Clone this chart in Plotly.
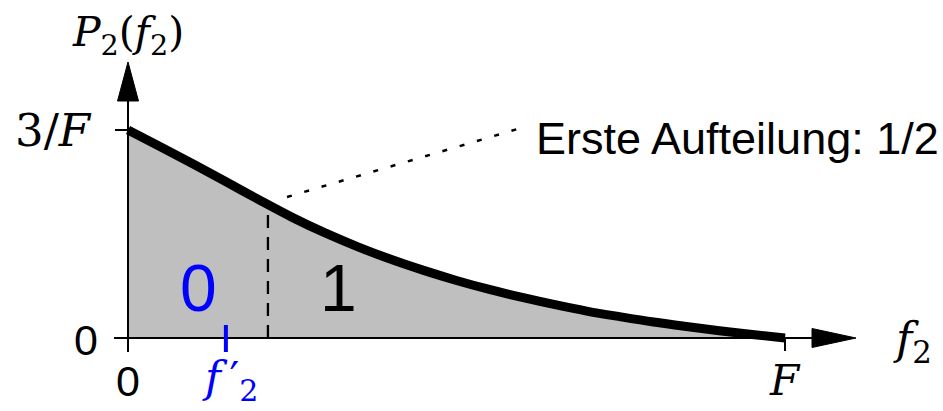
import numpy as np
import plotly.graph_objects as go

# Density P2(f2), in units of 1/F, sampled along f2/F
f2_frac = [0.00, 0.05, 0.10, 0.15, 0.20, 0.25, 0.30, 0.35, 0.40, 0.45, 0.50,
           0.55, 0.60, 0.65, 0.70, 0.75, 0.80, 0.85, 0.90, 0.95, 1.00]
p2_vals = [3.000, 2.755, 2.505, 2.250, 1.990, 1.740, 1.515, 1.315, 1.135, 0.975, 0.830,
           0.700, 0.585, 0.480, 0.385, 0.305, 0.230, 0.165, 0.105, 0.050, 0.000]

# First split of the interval (equal area on both sides) and the sample f2'
split_frac = 0.213
f2_prime_frac = 0.149

# Region labels and their positions along f2/F
region_labels = ["0", "1"]
region_label_x = [0.108, 0.320]
region_label_y = 0.72
region_colors = ["#0000ff", "#000000"]

split_caption = "Erste Aufteilung: 1/2"

# ---- page geometry (pixels) ----
W, H = 943, 411
X0, XW = 128, 657        # f2 = 0 and width of [0, F]
Y0, YU = 338, 69.33      # P2 = 0 and pixels per 1/F


def px_x(px):
    return (px - X0) / XW


def px_y(py):
    return (Y0 - py) / YU


SERIF = "DejaVu Serif"
SANS = "Liberation Sans"

fig = go.Figure()

curve_line = dict(shape="spline", smoothing=1.0)
# shaded area under the density
fig.add_trace(go.Scatter(
    x=f2_frac, y=p2_vals, mode="lines", line=dict(width=0, **curve_line),
    fill="tozeroy", fillcolor="#bfbfbf", hoverinfo="skip", showlegend=False))
# density curve
fig.add_trace(go.Scatter(
    x=f2_frac, y=p2_vals, mode="lines",
    line=dict(color="black", width=9, **curve_line),
    hoverinfo="skip", showlegend=False))

shapes = []
lw = 2
# axes
shapes.append(dict(type="line", x0=px_x(114), x1=px_x(815), y0=0, y1=0,
                   line=dict(color="black", width=lw)))
shapes.append(dict(type="line", x0=0, x1=0, y0=px_y(352), y1=px_y(98),
                   line=dict(color="black", width=lw)))
# arrow heads
xb, xt, hh = px_x(812), px_x(856), 9.5 / YU
shapes.append(dict(type="path", path=f"M {xb},{hh} L {xt},0 L {xb},{-hh} Z",
                   fillcolor="black", line=dict(color="black", width=1)))
yb, yt, hw = px_y(101), px_y(62), 10.5 / XW
shapes.append(dict(type="path", path=f"M {-hw},{yb} L 0,{yt} L {hw},{yb} Z",
                   fillcolor="black", line=dict(color="black", width=1)))
# ticks at 3/F and at F
shapes.append(dict(type="line", x0=px_x(115), x1=0, y0=p2_vals[0], y1=p2_vals[0],
                   line=dict(color="black", width=lw)))
shapes.append(dict(type="line", x0=f2_frac[-1], x1=f2_frac[-1], y0=0, y1=px_y(351),
                   line=dict(color="black", width=lw)))
# split marker
split_top = float(np.interp(split_frac, f2_frac, p2_vals))
shapes.append(dict(type="line", x0=split_frac, x1=split_frac, y0=0, y1=split_top,
                   line=dict(color="black", width=2.3, dash="13px,9px")))
# blue tick at f2'
shapes.append(dict(type="line", x0=f2_prime_frac, x1=f2_prime_frac,
                   y0=px_y(325), y1=px_y(352),
                   line=dict(color="#0000ff", width=4)))
# dotted leader to the caption
shapes.append(dict(type="line", x0=px_x(287), y0=px_y(197), x1=px_x(521), y1=px_y(128),
                   line=dict(color="black", width=2.5, dash="5px,13px")))
for s in shapes:
    s.update(xref="x", yref="y", layer="above")

ann = []


def label(text, x, y, size, color="black", family=SERIF, xanchor="center"):
    ann.append(dict(text=text, x=x, y=y, xref="x", yref="y", showarrow=False,
                    xanchor=xanchor, yanchor="middle",
                    font=dict(family=family, size=size, color=color)))


label("<i>P</i><sub>2</sub>(<i>f</i><sub>2</sub>)", px_x(128), px_y(35), 41)
label("3/<i>F</i>", px_x(53), px_y(130), 45)
label("0", px_x(86), px_y(340), 43, family=SANS)
label("0", px_x(128), px_y(381), 43, family=SANS)
label("<i>F</i>", f2_frac[-1], px_y(380), 42)
label("<i>f</i><sub>2</sub>", px_x(912), px_y(341), 44)
label("<i>f</i>\u2009′<sub>2</sub>", px_x(230), px_y(380), 43, color="#0000ff")
label(split_caption, px_x(534), px_y(138), 45, family=SANS, xanchor="left")
for txt, xv, col in zip(region_labels, region_label_x, region_colors):
    label(txt, xv, region_label_y, 66, color=col, family=SANS)

fig.update_layout(
    width=W, height=H, margin=dict(l=0, r=0, t=0, b=0),
    paper_bgcolor="white", plot_bgcolor="white",
    xaxis=dict(range=[px_x(0), px_x(W)], visible=False, fixedrange=True),
    yaxis=dict(range=[px_y(H), px_y(0)], visible=False, fixedrange=True),
    shapes=shapes, annotations=ann, showlegend=False,
)

fig.write_html("out.html", config={"displayModeBar": False})
